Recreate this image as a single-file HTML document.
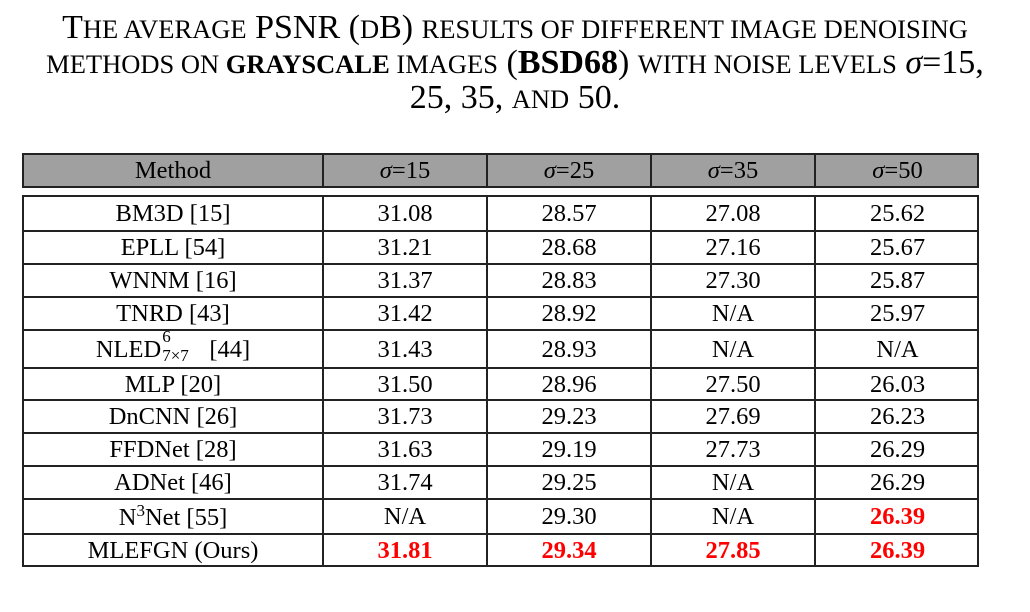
<!DOCTYPE html>
<html><head><meta charset="utf-8"><style>
body{margin:0;width:1030px;height:612px;background:#fff;font-family:"Liberation Serif",serif;color:#000;position:relative;overflow:hidden}
.t{position:absolute;left:0;width:1030px;text-align:center;font-size:34px;line-height:35px;white-space:nowrap}
.s{font-size:26.5px;text-transform:uppercase}
.tbl{position:absolute;border:2px solid #222;box-sizing:border-box}
.row{position:absolute;left:0;right:0;border-top:2px solid #222;box-sizing:border-box}
.c{position:absolute;top:0;bottom:0;text-align:center;font-size:24.5px;display:flex;align-items:center;justify-content:center;border-left:2px solid #222;box-sizing:border-box}
.r{color:#f00;font-weight:bold}
i{font-style:italic}
</style></head><body>
<div class="t" style="top:-28px;font-weight:bold">T<span class="s">able</span> II</div>
<div class="t" style="top:10px">T<span class="s">he average</span> PSNR (<span class="s">d</span>B) <span class="s">results of different image denoising</span></div>
<div class="t" style="top:45px"><span class="s">methods on <b>grayscale</b> images</span> (<b>BSD68</b>) <span class="s">with noise levels</span> <i>σ</i>=15,</div>
<div class="t" style="top:80px">25, 35, <span class="s">and</span> 50.</div>

<div class="tbl" style="left:22px;top:153px;width:957px;height:35px;background:#a0a0a0">
 <div class="c" style="left:0;width:298px;border-left:none">Method</div>
 <div class="c" style="left:298px;width:164px"><span><i>σ</i>=15</span></div>
 <div class="c" style="left:462px;width:164px"><span><i>σ</i>=25</span></div>
 <div class="c" style="left:626px;width:164px"><span><i>σ</i>=35</span></div>
 <div class="c" style="left:790px;width:165px"><span><i>σ</i>=50</span></div>
</div>
<div class="tbl" id="body" style="left:22px;top:195px;width:957px;height:372px"></div>
<script>
const methods=["NLED<span style='display:inline-block;position:relative;width:42px;height:20px;vertical-align:baseline'><span style='position:absolute;left:1px;top:-10px;font-size:17px'>6</span><span style='position:absolute;left:1px;top:9px;font-size:17px;white-space:nowrap'>7×7</span></span> [44]"];
methods.unshift("BM3D [15]","EPLL [54]","WNNM [16]","TNRD [43]");
methods.push("MLP [20]","DnCNN [26]","FFDNet [28]","ADNet [46]","N<sup style='font-size:17px'>3</sup>Net [55]","MLEFGN (Ours)");
const s15=["31.08","31.21","31.37","31.42","31.43","31.50","31.73","31.63","31.74","N/A","31.81"];
const s25=["28.57","28.68","28.83","28.92","28.93","28.96","29.23","29.19","29.25","29.30","29.34"];
const s35=["27.08","27.16","27.30","N/A","N/A","27.50","27.69","27.73","N/A","N/A","27.85"];
const s50=["25.62","25.67","25.87","25.97","N/A","26.03","26.23","26.29","26.29","26.39","26.39"];
const red=[[10],[10],[10],[9,10]];
const heights=[33,33,33,33,38,32,33,33,33,35,32];
const body=document.getElementById('body');
const cols=[[0,298],[298,164],[462,164],[626,164],[790,165]];
let y=0;
for(let i=0;i<methods.length;i++){
 const r=document.createElement('div');
 r.className='row';
 
 
 r.style.top=y+'px';r.style.height=heights[i]+'px';
 if(i===0)r.style.borderTop='none';
 const vals=[methods[i],s15[i],s25[i],s35[i],s50[i]];
 for(let j=0;j<5;j++){
  const c=document.createElement('div');
  c.className='c';
  
  
  c.style.left=cols[j][0]+'px';c.style.width=cols[j][1]+'px';
  if(i>0)c.style.paddingTop='1px';
  if(j===0)c.style.borderLeft='none';
  if(j>0&&red[j-1].includes(i))c.classList.add('r');
  c.innerHTML='<span>'+vals[j]+'</span>';
  r.appendChild(c);
 }
 body.appendChild(r);
 y+=heights[i];
}
</script>
</body></html>
